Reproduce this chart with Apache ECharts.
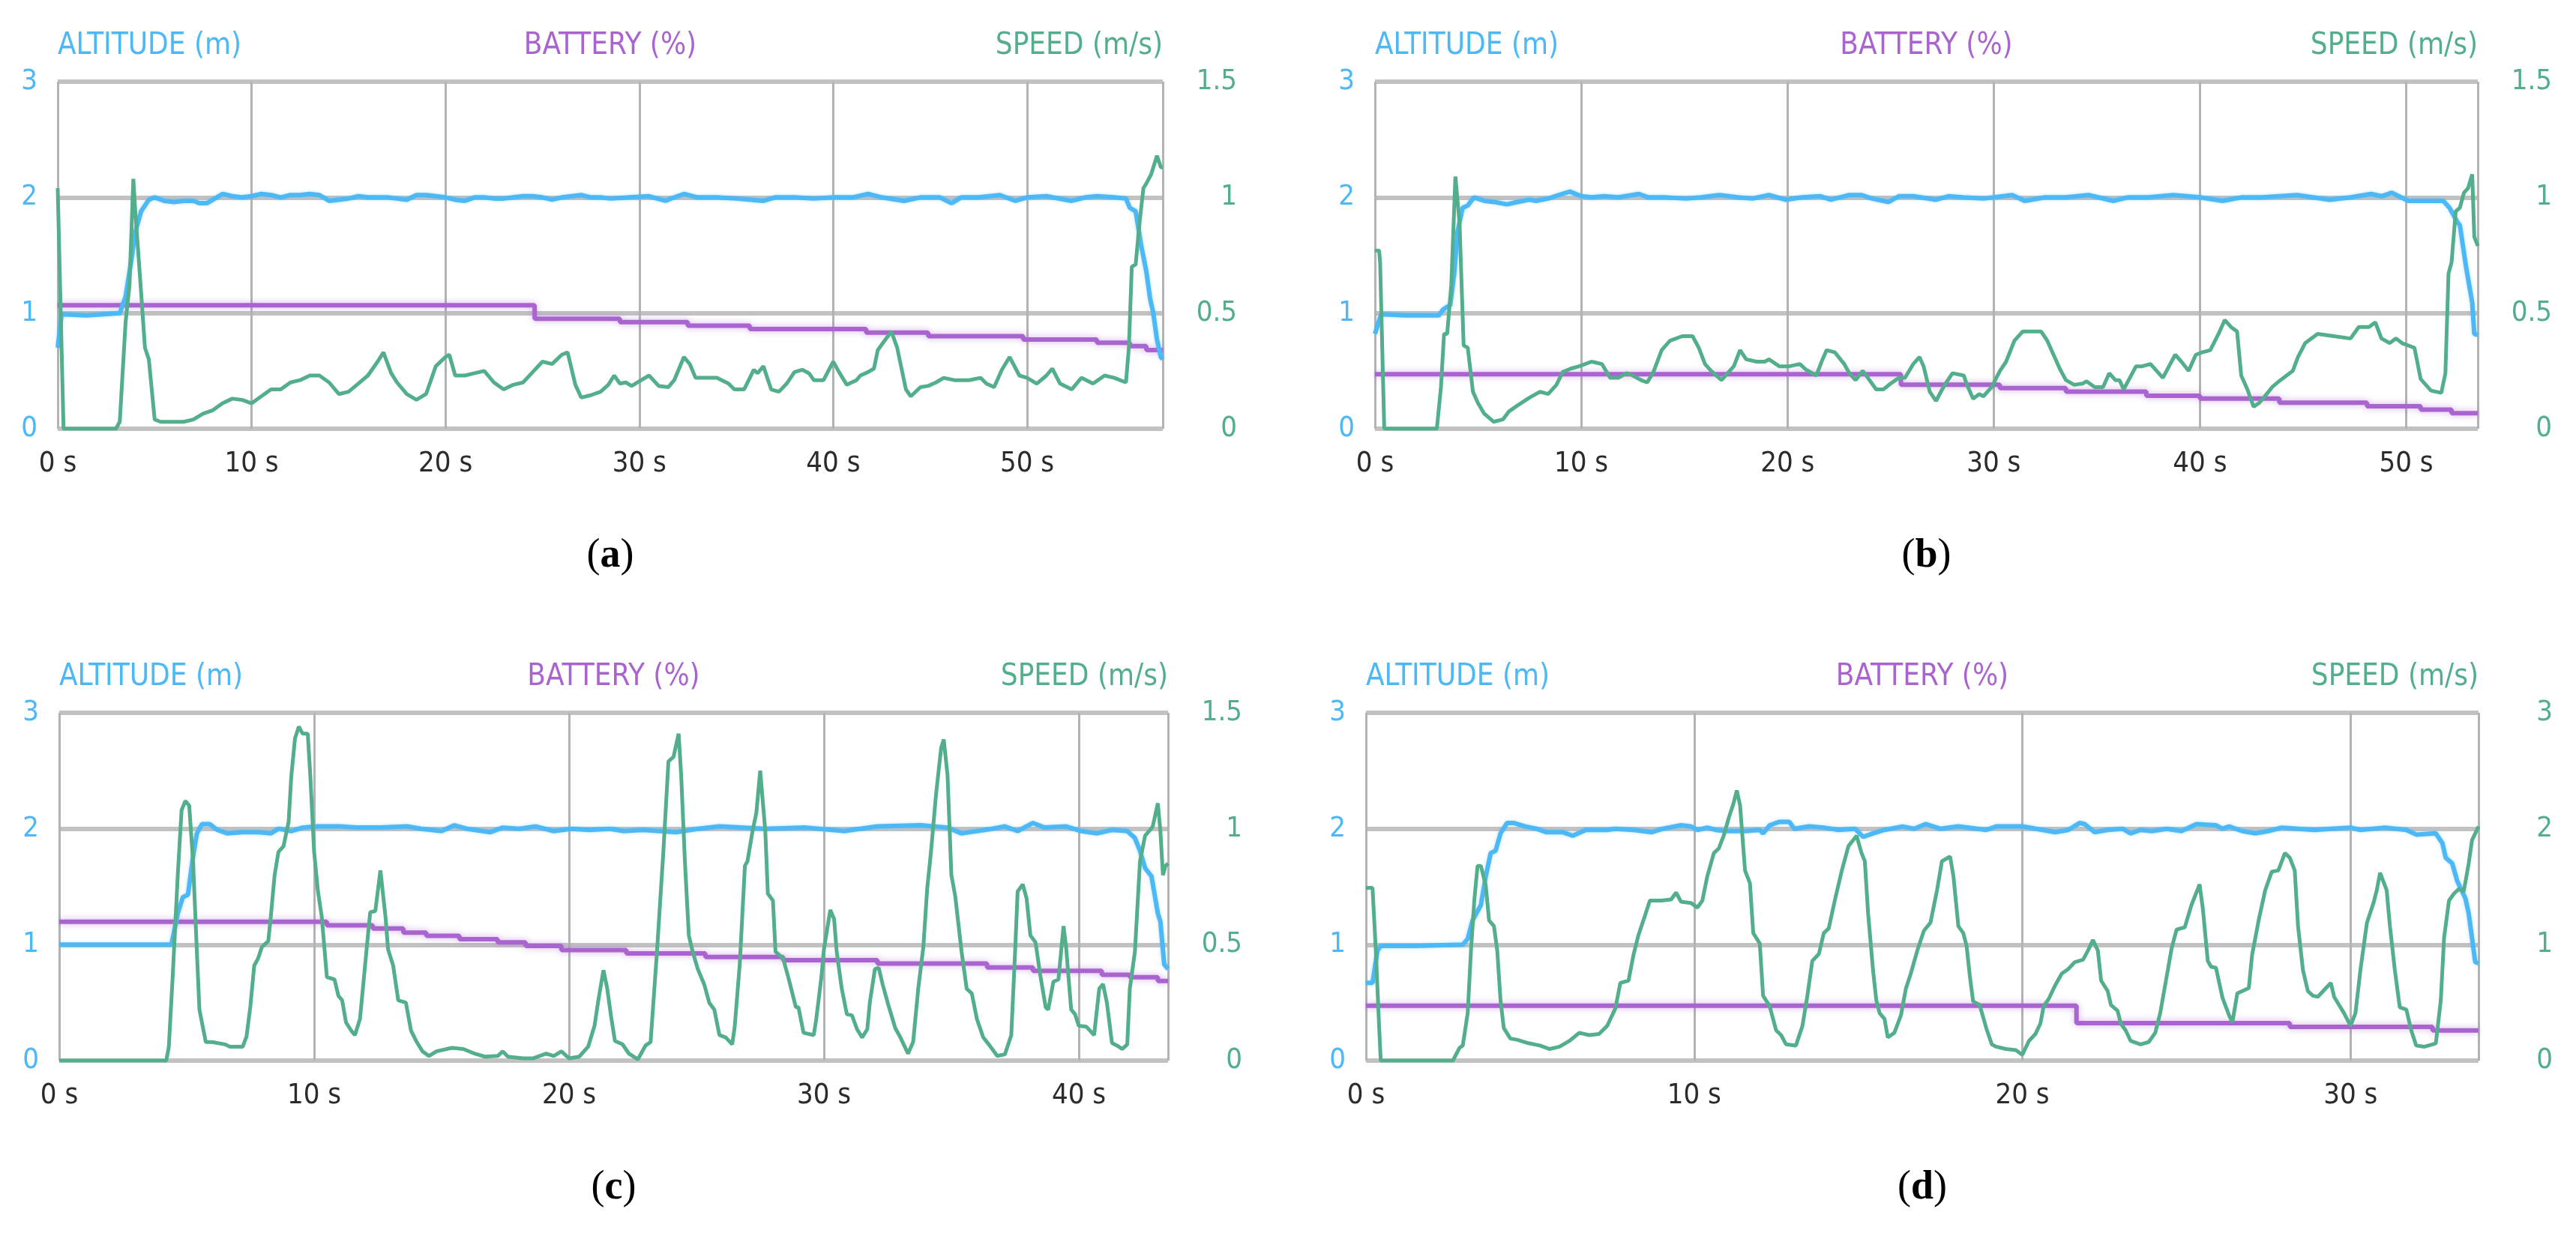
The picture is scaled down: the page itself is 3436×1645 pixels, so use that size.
<!DOCTYPE html>
<html>
<head>
<meta charset="utf-8">
<title>Flight logs</title>
<script src="https://cdn.jsdelivr.net/npm/echarts@6/dist/echarts.min.js"></script>
<style>
    html, body { margin: 0; padding: 0; background: #fff; }
    #main { width: 3436px; height: 1645px; }
</style>
</head>
<body>
<div id="main"></div>
<script>
// [time s, value] pairs

// (a)
var altA = [[0,0.70],[0.2,0.99],[1.5,0.98],[3.2,1.0],[3.5,1.14],[3.8,1.46],[4.0,1.70],[4.3,1.88],[4.7,1.98],[5.0,2.0],[5.5,1.97],[6,1.96],[6.5,1.97],[7,1.97],[7.3,1.95],[7.7,1.95],[8,1.98],[8.5,2.03],[9,2.01],[9.5,2.0],[10,2.01],[10.5,2.03],[11,2.02],[11.5,2.0],[12,2.02],[12.5,2.02],[13,2.03],[13.5,2.02],[14,1.97],[14.5,1.98],[15,1.99],[15.5,2.01],[16,2.0],[16.5,2.0],[17,2.0],[17.5,1.99],[18,1.98],[18.5,2.02],[19,2.02],[19.5,2.01],[20,2.0],[20.5,1.98],[21,1.97],[21.5,2.0],[22,2.0],[22.5,1.99],[23,1.99],[23.5,2.0],[24,2.01],[24.5,2.01],[25,2.0],[25.5,1.98],[26,2.0],[26.5,2.01],[27,2.02],[27.5,2.0],[28,2.0],[28.5,1.99],[29.5,2.0],[30.5,2.01],[31.35,1.97],[31.8,2.0],[32.3,2.03],[33,2.0],[34,2.0],[35,1.99],[36.4,1.97],[37,2.0],[38,2.0],[39,1.99],[40,2.0],[41,2.0],[41.8,2.03],[42.5,2.0],[43.65,1.97],[44.5,2.0],[45.5,2.0],[46.1,1.95],[46.6,2.0],[47.5,2.0],[48.6,2.02],[49.4,1.97],[50,2.0],[51,2.01],[52.3,1.97],[53.0,2.0],[53.6,2.01],[54.5,2.0],[55.1,1.99],[55.3,1.91],[55.6,1.88],[55.9,1.57],[56.15,1.36],[56.35,1.12],[56.5,1.01],[56.7,0.77],[56.9,0.62],[57.0,0.60]];
var speedA = [[0,1.04],[0.3,0],[3.0,0],[3.2,0.03],[3.5,0.46],[3.7,0.62],[3.9,1.08],[4.0,0.94],[4.25,0.65],[4.5,0.35],[4.7,0.30],[5.0,0.04],[5.3,0.03],[6,0.03],[6.5,0.03],[7,0.04],[7.5,0.065],[8,0.08],[8.5,0.11],[9,0.13],[9.5,0.125],[10,0.11],[10.5,0.14],[11,0.17],[11.5,0.17],[12,0.20],[12.5,0.21],[13,0.23],[13.5,0.23],[14,0.20],[14.5,0.15],[15,0.16],[15.5,0.195],[16,0.23],[16.5,0.29],[16.8,0.33],[17.2,0.24],[17.5,0.20],[18,0.15],[18.5,0.125],[19,0.15],[19.5,0.27],[20,0.31],[20.2,0.32],[20.5,0.23],[21,0.23],[21.5,0.24],[22,0.25],[22.5,0.20],[23,0.17],[23.5,0.19],[24,0.20],[24.5,0.245],[25,0.29],[25.5,0.28],[26,0.32],[26.3,0.33],[26.7,0.19],[27,0.135],[27.5,0.145],[28,0.16],[28.4,0.19],[28.7,0.23],[29.0,0.195],[29.3,0.20],[29.6,0.185],[30,0.205],[30.5,0.23],[31.0,0.185],[31.5,0.18],[31.8,0.21],[32.3,0.31],[32.6,0.28],[32.9,0.22],[33.6,0.22],[34.0,0.22],[34.6,0.195],[34.9,0.17],[35.4,0.17],[35.7,0.22],[35.9,0.255],[36.1,0.24],[36.4,0.27],[36.8,0.17],[37.2,0.16],[37.6,0.195],[38.0,0.245],[38.4,0.255],[38.75,0.24],[39.0,0.21],[39.5,0.21],[40,0.29],[40.3,0.245],[40.7,0.19],[41.2,0.21],[41.4,0.23],[41.8,0.245],[42.1,0.26],[42.3,0.34],[42.6,0.375],[43.0,0.42],[43.3,0.35],[43.5,0.27],[43.75,0.17],[44.0,0.14],[44.5,0.18],[44.9,0.185],[45.3,0.20],[45.7,0.22],[46.25,0.21],[47.0,0.21],[47.6,0.22],[47.9,0.195],[48.3,0.18],[48.7,0.255],[49.1,0.31],[49.6,0.23],[50,0.22],[50.5,0.195],[51.0,0.23],[51.3,0.26],[51.7,0.195],[52.3,0.17],[52.8,0.22],[53.4,0.195],[54.0,0.23],[54.5,0.22],[55.1,0.20],[55.25,0.35],[55.4,0.70],[55.6,0.71],[55.8,0.89],[56.0,1.04],[56.15,1.06],[56.4,1.10],[56.7,1.18],[56.9,1.13],[57.0,1.13]];
var batA = [[0,35.6],[24.6,31.7],[29.0,30.7],[32.5,29.7],[35.7,28.7],[41.7,27.7],[44.9,26.7],[49.8,25.7],[53.6,24.8],[55.3,23.8],[56.15,22.7],[57.0,22.7]];

// (b)
var altB = [[0,0.82],[0.3,0.99],[1.5,0.98],[3.1,0.98],[3.3,1.03],[3.65,1.07],[3.85,1.35],[4.0,1.70],[4.25,1.91],[4.5,1.93],[4.8,2.0],[5.3,1.97],[5.8,1.96],[6.4,1.94],[6.9,1.96],[7.5,1.98],[7.8,1.97],[8.4,1.99],[8.9,2.02],[9.45,2.05],[10,2.01],[10.5,2.0],[11.1,2.01],[11.8,2.0],[12.8,2.03],[13.25,2.0],[14,2.0],[15.1,1.99],[15.8,2.0],[16.7,2.02],[17.6,2.0],[18.3,1.99],[19.1,2.02],[19.9,1.98],[20.7,2.0],[21.6,2.01],[22.1,1.98],[23.0,2.02],[23.6,2.02],[24.1,1.99],[24.9,1.96],[25.4,2.01],[26.1,2.01],[27.2,1.98],[27.8,2.01],[28.5,2.0],[29.5,1.99],[30.9,2.02],[31.5,1.97],[32.5,2.0],[33.5,2.0],[34.6,2.02],[35.8,1.97],[36.5,2.0],[37.5,2.0],[38.7,2.02],[40,2.0],[41.1,1.97],[42,2.0],[43,2.0],[44.7,2.02],[46.3,1.98],[47.3,2.0],[48.3,2.03],[48.8,2.01],[49.3,2.04],[50.1,1.97],[51,1.97],[51.8,1.97],[52.1,1.91],[52.5,1.78],[52.6,1.76],[52.9,1.40],[53.2,1.09],[53.3,0.82],[53.47,0.81]];
var speedB = [[0,0.77],[0.2,0.77],[0.25,0.72],[0.45,0],[3.0,0],[3.2,0.18],[3.35,0.41],[3.5,0.41],[3.7,0.62],[3.9,1.09],[4.1,0.89],[4.3,0.36],[4.5,0.35],[4.75,0.16],[5.0,0.11],[5.3,0.065],[5.75,0.03],[6.2,0.04],[6.5,0.075],[6.9,0.10],[7.5,0.135],[8.0,0.16],[8.4,0.15],[8.8,0.19],[9.1,0.245],[9.5,0.26],[9.9,0.27],[10.5,0.29],[11.0,0.28],[11.4,0.22],[11.8,0.22],[12.2,0.24],[12.5,0.23],[12.9,0.21],[13.2,0.20],[13.5,0.245],[13.9,0.34],[14.3,0.38],[14.9,0.40],[15.4,0.40],[15.7,0.35],[16.0,0.28],[16.3,0.25],[16.8,0.21],[17.1,0.24],[17.4,0.27],[17.7,0.34],[18.0,0.30],[18.5,0.29],[18.9,0.29],[19.1,0.30],[19.6,0.27],[20.1,0.27],[20.6,0.28],[20.9,0.255],[21.4,0.23],[21.7,0.30],[21.9,0.34],[22.3,0.33],[22.75,0.28],[23.0,0.24],[23.3,0.21],[23.65,0.25],[23.9,0.22],[24.3,0.17],[24.65,0.17],[25.0,0.195],[25.4,0.22],[25.7,0.22],[26.1,0.28],[26.4,0.31],[26.6,0.27],[26.9,0.16],[27.2,0.12],[27.5,0.17],[27.7,0.20],[28.0,0.24],[28.55,0.23],[28.7,0.19],[29.0,0.13],[29.3,0.15],[29.5,0.14],[29.9,0.18],[30.3,0.25],[30.6,0.29],[31.0,0.38],[31.4,0.42],[32.3,0.42],[32.6,0.38],[32.9,0.32],[33.2,0.26],[33.5,0.21],[33.9,0.19],[34.3,0.195],[34.5,0.205],[34.9,0.18],[35.3,0.18],[35.6,0.24],[35.9,0.21],[36.1,0.21],[36.3,0.17],[36.6,0.22],[36.9,0.27],[37.2,0.27],[37.6,0.28],[38.0,0.24],[38.2,0.22],[38.5,0.27],[38.8,0.32],[39.1,0.29],[39.45,0.25],[39.8,0.32],[40.1,0.33],[40.5,0.34],[40.9,0.41],[41.2,0.47],[41.5,0.44],[41.8,0.42],[42.0,0.23],[42.3,0.17],[42.6,0.095],[42.85,0.11],[43.1,0.135],[43.5,0.18],[43.9,0.21],[44.5,0.25],[44.75,0.31],[45.1,0.37],[45.7,0.41],[46.5,0.40],[47.3,0.39],[47.7,0.44],[48.2,0.44],[48.5,0.46],[48.8,0.39],[49.2,0.37],[49.5,0.39],[49.8,0.37],[50.4,0.35],[50.7,0.215],[51.2,0.165],[51.7,0.155],[51.9,0.24],[52.05,0.67],[52.2,0.72],[52.4,0.94],[52.6,0.955],[52.8,1.02],[53.0,1.04],[53.2,1.10],[53.3,0.83],[53.47,0.79]];
var batB = [[0,15.7],[25.5,12.7],[30.3,11.7],[33.5,10.7],[37.4,9.5],[40.0,8.7],[43.85,7.5],[48.1,6.5],[50.7,5.5],[52.2,4.5],[53.47,4.5]];

// (c)
var altC = [[0,1.0],[4.4,1.0],[4.65,1.27],[4.85,1.41],[5.05,1.43],[5.25,1.76],[5.4,1.96],[5.6,2.04],[5.9,2.04],[6.2,1.99],[6.6,1.96],[7.2,1.97],[7.8,1.97],[8.3,1.96],[8.6,2.0],[9.1,1.98],[9.55,2.01],[10.1,2.02],[11.0,2.02],[11.75,2.01],[12.6,2.01],[13.65,2.02],[14.2,2.0],[15.0,1.98],[15.5,2.03],[16.0,2.0],[16.9,1.97],[17.4,2.01],[18.05,2.0],[18.7,2.02],[19.4,1.98],[20.1,2.0],[20.8,1.99],[21.6,2.0],[22.15,1.98],[22.9,1.99],[24.2,1.97],[25.05,2.0],[25.9,2.02],[27.7,2.0],[29.3,2.01],[30.8,1.98],[32.1,2.02],[33.8,2.03],[34.85,2.01],[35.4,1.96],[36.6,2.0],[37.1,2.02],[37.6,1.98],[38.2,2.05],[38.65,2.01],[39.5,2.02],[40.1,1.98],[40.7,1.96],[41.3,1.99],[41.9,1.98],[42.2,1.92],[42.4,1.81],[42.6,1.66],[42.85,1.59],[43.1,1.27],[43.2,1.20],[43.35,0.83],[43.5,0.79]];
var speedC = [[0,0],[4.2,0],[4.3,0.06],[4.45,0.36],[4.65,0.80],[4.8,1.08],[4.95,1.12],[5.1,1.10],[5.25,0.86],[5.4,0.47],[5.5,0.22],[5.75,0.08],[6.0,0.08],[6.5,0.07],[6.7,0.06],[7.2,0.06],[7.35,0.105],[7.5,0.235],[7.65,0.41],[7.8,0.44],[7.95,0.49],[8.2,0.515],[8.3,0.62],[8.45,0.80],[8.6,0.90],[8.8,0.925],[9.0,1.03],[9.1,1.22],[9.25,1.39],[9.4,1.44],[9.55,1.41],[9.75,1.41],[9.85,1.23],[10.0,0.90],[10.15,0.73],[10.3,0.62],[10.5,0.36],[10.8,0.35],[10.95,0.28],[11.1,0.26],[11.25,0.165],[11.45,0.13],[11.6,0.11],[11.8,0.18],[12.05,0.47],[12.2,0.64],[12.4,0.645],[12.6,0.82],[12.8,0.62],[12.9,0.48],[13.1,0.41],[13.3,0.26],[13.6,0.25],[13.8,0.13],[14.0,0.085],[14.25,0.04],[14.5,0.02],[14.8,0.04],[15.4,0.055],[15.85,0.05],[16.3,0.03],[16.7,0.017],[17.2,0.02],[17.4,0.04],[17.6,0.017],[18.2,0.01],[18.6,0.01],[19.1,0.03],[19.4,0.02],[19.7,0.04],[20.0,0.01],[20.4,0.017],[20.75,0.06],[21.0,0.15],[21.15,0.26],[21.35,0.39],[21.5,0.31],[21.65,0.19],[21.8,0.085],[22.1,0.07],[22.35,0.03],[22.7,0.005],[23.0,0.065],[23.2,0.08],[23.45,0.47],[23.7,0.90],[23.9,1.29],[24.1,1.31],[24.3,1.41],[24.4,1.23],[24.55,0.85],[24.7,0.54],[24.85,0.47],[25.05,0.395],[25.3,0.33],[25.5,0.25],[25.7,0.22],[25.9,0.11],[26.15,0.10],[26.4,0.07],[26.5,0.146],[26.7,0.42],[26.9,0.84],[27.0,0.86],[27.2,0.99],[27.35,1.07],[27.5,1.25],[27.7,0.99],[27.8,0.72],[28.0,0.69],[28.1,0.47],[28.4,0.44],[28.6,0.36],[28.9,0.23],[29.0,0.23],[29.2,0.12],[29.6,0.11],[29.7,0.18],[29.9,0.36],[30.0,0.48],[30.25,0.65],[30.4,0.61],[30.5,0.47],[30.7,0.31],[30.9,0.20],[31.1,0.195],[31.3,0.135],[31.5,0.10],[31.7,0.135],[31.8,0.25],[32.0,0.395],[32.15,0.40],[32.3,0.33],[32.5,0.25],[32.8,0.14],[33.0,0.10],[33.3,0.03],[33.5,0.08],[33.7,0.31],[33.9,0.49],[34.05,0.74],[34.2,0.90],[34.4,1.15],[34.6,1.35],[34.7,1.385],[34.85,1.23],[35.0,0.80],[35.15,0.71],[35.4,0.47],[35.6,0.31],[35.8,0.29],[36.0,0.18],[36.25,0.10],[36.5,0.065],[36.8,0.02],[37.1,0.027],[37.35,0.11],[37.5,0.47],[37.6,0.73],[37.8,0.76],[37.95,0.70],[38.1,0.54],[38.3,0.51],[38.5,0.36],[38.7,0.23],[38.8,0.22],[39.0,0.34],[39.2,0.35],[39.4,0.58],[39.5,0.49],[39.7,0.22],[39.85,0.20],[40.0,0.15],[40.3,0.146],[40.6,0.11],[40.8,0.31],[40.95,0.33],[41.1,0.25],[41.3,0.076],[41.5,0.065],[41.7,0.05],[41.9,0.07],[42.0,0.31],[42.2,0.47],[42.4,0.86],[42.6,0.97],[42.8,0.995],[42.9,1.01],[43.1,1.11],[43.2,0.99],[43.3,0.80],[43.4,0.84],[43.5,0.85]];
var batC = [[0,39.9],[10.5,38.9],[12.3,38.0],[13.5,36.8],[14.4,35.9],[15.7,34.9],[17.2,34.0],[18.3,33.0],[19.7,31.8],[22.25,30.8],[25.35,29.8],[28.4,28.9],[32.1,27.9],[36.4,26.8],[38.2,25.8],[40.9,24.7],[42.0,24.0],[43.1,22.9],[43.5,22.9]];

// (d)
var altD = [[0,0.67],[0.2,0.67],[0.35,0.95],[0.45,0.99],[1.5,0.99],[2.95,1.0],[3.1,1.05],[3.25,1.21],[3.4,1.29],[3.5,1.34],[3.65,1.59],[3.8,1.79],[3.95,1.81],[4.1,1.96],[4.3,2.05],[4.5,2.05],[4.85,2.02],[5.2,2.0],[5.5,1.97],[6.0,1.97],[6.3,1.94],[6.7,1.99],[7.35,1.99],[7.6,2.0],[8.15,1.99],[8.7,1.97],[9.05,2.0],[9.6,2.03],[9.9,2.02],[10.1,1.99],[10.4,2.01],[10.65,1.99],[11.0,1.98],[11.55,1.98],[12.0,1.99],[12.1,1.96],[12.3,2.03],[12.6,2.06],[12.9,2.06],[13.05,2.0],[13.5,2.02],[13.95,2.01],[14.4,1.99],[14.9,2.0],[15.15,1.93],[15.45,1.96],[15.8,1.99],[16.35,2.02],[16.7,2.0],[17.05,2.04],[17.5,2.0],[18.05,2.02],[18.9,1.99],[19.2,2.02],[20,2.02],[21.0,1.97],[21.4,1.99],[21.75,2.05],[21.9,2.04],[22.2,1.97],[22.6,1.99],[23.05,2.0],[23.3,1.96],[23.6,1.99],[23.95,1.98],[24.4,2.0],[24.85,1.98],[25.3,2.04],[25.9,2.03],[26.1,2.0],[26.3,2.02],[26.7,1.98],[27.1,1.96],[27.5,1.98],[27.9,2.01],[28.4,2.0],[28.9,1.99],[29.4,2.0],[30.0,2.01],[30.3,1.99],[31.05,2.01],[31.7,1.99],[32.0,1.95],[32.6,1.96],[32.8,1.875],[32.9,1.75],[33.1,1.70],[33.25,1.55],[33.5,1.40],[33.6,1.27],[33.7,1.06],[33.8,0.85],[33.9,0.84]];
var speedD = [[0,1.49],[0.2,1.49],[0.3,0.95],[0.4,0.30],[0.45,0],[2.65,0],[2.85,0.11],[2.95,0.13],[3.1,0.41],[3.2,0.95],[3.3,1.38],[3.4,1.68],[3.5,1.68],[3.65,1.51],[3.75,1.21],[3.9,1.16],[4.0,0.95],[4.1,0.52],[4.2,0.28],[4.4,0.19],[4.6,0.18],[4.95,0.15],[5.3,0.13],[5.6,0.10],[5.9,0.12],[6.2,0.17],[6.5,0.24],[6.8,0.22],[7.1,0.23],[7.35,0.30],[7.6,0.45],[7.75,0.67],[8.0,0.69],[8.15,0.91],[8.3,1.08],[8.5,1.25],[8.65,1.38],[9.0,1.38],[9.3,1.39],[9.45,1.45],[9.6,1.37],[9.9,1.36],[10.1,1.32],[10.25,1.38],[10.4,1.59],[10.6,1.79],[10.75,1.83],[10.9,1.94],[11.05,2.09],[11.2,2.22],[11.3,2.33],[11.4,2.20],[11.55,1.64],[11.7,1.53],[11.8,1.10],[12.0,1.01],[12.1,0.56],[12.3,0.47],[12.5,0.26],[12.65,0.22],[12.8,0.14],[13.1,0.13],[13.3,0.30],[13.45,0.56],[13.6,0.86],[13.8,0.92],[13.95,1.10],[14.1,1.14],[14.3,1.40],[14.5,1.64],[14.7,1.85],[14.95,1.94],[15.1,1.79],[15.2,1.72],[15.3,1.27],[15.45,0.78],[15.55,0.52],[15.65,0.41],[15.8,0.36],[15.9,0.20],[16.1,0.24],[16.3,0.39],[16.45,0.62],[16.6,0.75],[16.8,0.95],[17.0,1.12],[17.2,1.19],[17.4,1.47],[17.55,1.72],[17.8,1.76],[17.9,1.59],[18.05,1.16],[18.2,1.10],[18.3,0.99],[18.4,0.73],[18.5,0.51],[18.7,0.48],[18.9,0.28],[19.07,0.14],[19.2,0.12],[19.5,0.10],[19.8,0.09],[20.0,0.05],[20.2,0.17],[20.4,0.23],[20.55,0.32],[20.65,0.47],[20.8,0.53],[21.0,0.65],[21.2,0.75],[21.4,0.79],[21.6,0.85],[21.85,0.87],[22.0,0.95],[22.15,1.04],[22.3,0.95],[22.4,0.69],[22.6,0.60],[22.7,0.48],[22.9,0.43],[23.0,0.32],[23.15,0.26],[23.3,0.17],[23.6,0.14],[23.85,0.16],[24.05,0.24],[24.2,0.41],[24.4,0.73],[24.55,0.97],[24.7,1.13],[24.95,1.15],[25.15,1.34],[25.4,1.52],[25.5,1.31],[25.65,0.86],[25.75,0.81],[25.9,0.80],[26.1,0.54],[26.3,0.39],[26.4,0.33],[26.55,0.58],[26.7,0.60],[26.9,0.625],[27.0,0.91],[27.2,1.21],[27.4,1.47],[27.6,1.63],[27.8,1.64],[28.0,1.79],[28.15,1.75],[28.3,1.64],[28.4,1.16],[28.55,0.78],[28.7,0.60],[28.85,0.56],[29.0,0.55],[29.25,0.625],[29.4,0.67],[29.5,0.55],[29.65,0.48],[29.8,0.41],[30.0,0.30],[30.15,0.41],[30.3,0.78],[30.5,1.19],[30.7,1.36],[30.8,1.47],[30.9,1.62],[31.1,1.47],[31.2,1.16],[31.35,0.78],[31.5,0.46],[31.7,0.44],[31.85,0.26],[32.0,0.13],[32.25,0.12],[32.5,0.14],[32.6,0.15],[32.75,0.52],[32.85,1.06],[33.0,1.38],[33.15,1.44],[33.3,1.48],[33.45,1.46],[33.6,1.70],[33.7,1.90],[33.9,2.02]];
var batD = [[0,15.8],[21.65,10.8],[28.15,9.7],[32.5,8.7],[33.9,8.7]];

var endTimes = [57.0, 53.47, 43.5, 33.9];
var speedMax = [1.5, 1.5, 1.5, 3];
var speedStep = [0.5, 0.5, 0.5, 1];
var tags = ['a', 'b', 'c', 'd'];

var BLUE = '#4db8f6', PURPLE = '#a964d0', GREEN = '#52ae8b';
var NARROW = "'Liberation Sans Narrow', 'DejaVu Sans Condensed', 'Roboto', sans-serif";

// pixel boxes of the four plot areas
var boxes = [
    { left: 77, top: 109, width: 1474, height: 463 },
    { left: 1834, top: 109, width: 1471, height: 463 },
    { left: 79, top: 951, width: 1479, height: 464 },
    { left: 1822, top: 951, width: 1484, height: 464 }
];

var panels = [
    { alt: altA, speed: speedA, bat: batA },
    { alt: altB, speed: speedB, bat: batB },
    { alt: altC, speed: speedC, bat: batC },
    { alt: altD, speed: speedD, bat: batD }
];

var grid = [], xAxis = [], yAxis = [], series = [], graphic = [];

panels.forEach(function(p, i) {
    var b = boxes[i];
    grid.push({ left: b.left, top: b.top, width: b.width, height: b.height });

    xAxis.push({
        type: 'value', gridIndex: i, min: 0, max: endTimes[i], interval: 10,
        axisLine: { show: false },
        axisTick: { show: false },
        splitLine: { show: true, lineStyle: { color: '#b3b3b3', width: 3 } },
        axisLabel: {
            margin: 28, color: '#2b2b2b', fontFamily: NARROW, fontSize: 38,
            formatter: function(v) { return v % 10 === 0 ? v + ' s' : ''; }
        }
    });

    var y0 = yAxis.length;
    // altitude (left)
    yAxis.push({
        type: 'value', gridIndex: i, position: 'left', min: 0, max: 3, interval: 1,
        axisLine: { show: false },
        axisTick: { show: false },
        splitLine: { show: true, lineStyle: { color: '#c2c2c2', width: 6 } },
        axisLabel: { margin: 27, color: BLUE, fontFamily: NARROW, fontSize: 38 }
    });
    // speed (right)
    yAxis.push({
        type: 'value', gridIndex: i, position: 'right', min: 0, max: speedMax[i], interval: speedStep[i],
        axisLine: { show: false },
        axisTick: { show: false },
        splitLine: { show: false },
        axisLabel: { margin: 99, align: 'right', color: GREEN, fontFamily: NARROW, fontSize: 38 }
    });
    // battery (hidden)
    yAxis.push({ type: 'value', gridIndex: i, min: 0, max: 100, show: false });

    series.push({
        name: 'BATTERY (%)', type: 'line', xAxisIndex: i, yAxisIndex: y0 + 2,
        step: 'end', showSymbol: false, silent: true,
        lineStyle: { width: 6, color: PURPLE, shadowColor: 'rgba(169,100,208,0.5)', shadowBlur: 8 },
        data: p.bat
    });
    series.push({
        name: 'ALTITUDE (m)', type: 'line', xAxisIndex: i, yAxisIndex: y0,
        showSymbol: false, silent: true,
        lineStyle: { width: 6, color: BLUE, shadowColor: 'rgba(77,184,246,0.4)', shadowBlur: 4 },
        data: p.alt
    });
    series.push({
        name: 'SPEED (m/s)', type: 'line', xAxisIndex: i, yAxisIndex: y0 + 1,
        showSymbol: false, silent: true,
        lineStyle: { width: 5, color: GREEN },
        data: p.speed
    });

    var ty = b.top - 47;
    graphic.push({ type: 'text', x: b.left, y: ty,
        style: { text: 'ALTITUDE (m)', fill: BLUE, fontFamily: NARROW, fontSize: 40, align: 'left', verticalAlign: 'middle' } });
    graphic.push({ type: 'text', x: b.left + b.width / 2, y: ty,
        style: { text: 'BATTERY (%)', fill: PURPLE, fontFamily: NARROW, fontSize: 40, align: 'center', verticalAlign: 'middle' } });
    graphic.push({ type: 'text', x: b.left + b.width, y: ty,
        style: { text: 'SPEED (m/s)', fill: GREEN, fontFamily: NARROW, fontSize: 40, align: 'right', verticalAlign: 'middle' } });

    // sub-figure caption
    graphic.push({ type: 'text', x: b.left + b.width / 2, y: b.top + b.height + 170,
        style: {
            text: '{p|(}{b|' + tags[i] + '}{p|)}',
            align: 'center', verticalAlign: 'middle',
            rich: {
                p: { fontFamily: 'Liberation Serif', fontSize: 54, fill: '#000' },
                b: { fontFamily: 'Liberation Serif', fontSize: 54, fontWeight: 'bold', fill: '#000' }
            }
        } });
});

var myChart = echarts.init(document.getElementById('main'));
myChart.setOption({
    animation: false,
    backgroundColor: '#fff',
    grid: grid,
    xAxis: xAxis,
    yAxis: yAxis,
    series: series,
    graphic: graphic
});
</script>
</body>
</html>
